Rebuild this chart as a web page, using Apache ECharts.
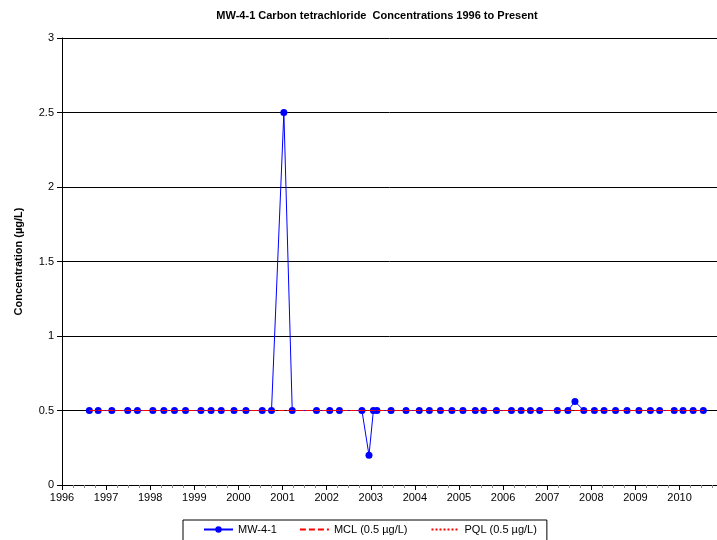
<!DOCTYPE html>
<html>
<head>
<meta charset="utf-8">
<script src="https://cdn.jsdelivr.net/npm/echarts@6/dist/echarts.min.js"></script>
<style>html,body{margin:0;padding:0;background:#fff}#c{width:717px;height:540px}</style>
</head>
<body>
<div id="c"></div>
<script>
// Sample dates (decimal years) and concentrations (µg/L)
const sampleYears = [1996.62,1996.82,1997.13,1997.49,1997.71,1998.06,1998.31,1998.55,1998.80,1999.15,1999.38,1999.61,1999.90,2000.17,2000.54,2000.75,2001.03,2001.22,2001.77,2002.07,2002.29,2002.80,2002.96,2003.06,2003.14,2003.46,2003.80,2004.10,2004.33,2004.58,2004.84,2005.09,2005.37,2005.56,2005.85,2006.19,2006.41,2006.62,2006.83,2007.23,2007.47,2007.63,2007.83,2008.07,2008.29,2008.55,2008.81,2009.08,2009.34,2009.55,2009.88,2010.08,2010.31,2010.54];
const mw41 = [0.5,0.5,0.5,0.5,0.5,0.5,0.5,0.5,0.5,0.5,0.5,0.5,0.5,0.5,0.5,0.5,2.5,0.5,0.5,0.5,0.5,0.5,0.2,0.5,0.5,0.5,0.5,0.5,0.5,0.5,0.5,0.5,0.5,0.5,0.5,0.5,0.5,0.5,0.5,0.5,0.5,0.56,0.5,0.5,0.5,0.5,0.5,0.5,0.5,0.5,0.5,0.5,0.5,0.5];
const mclValue = 0.5;
const pqlValue = 0.5;
const yearTicks = [1996,1997,1998,1999,2000,2001,2002,2003,2004,2005,2006,2007,2008,2009,2010];

const FONT = 'Liberation Sans, Arial, sans-serif';
const mwData = sampleYears.map((x, i) => [x, mw41[i]]);
const first = sampleYears[0], last = sampleYears[sampleYears.length - 1];

const chart = echarts.init(document.getElementById('c'), null, {renderer: 'canvas'});
chart.setOption({
  animation: false,
  backgroundColor: '#fff',
  textStyle: {fontFamily: FONT},
  title: {
    text: 'MW-4-1 Carbon tetrachloride  Concentrations 1996 to Present',
    left: 372, top: 5, textAlign: 'center',
    textStyle: {fontFamily: FONT, fontSize: 11, fontWeight: 'bold', color: '#000'}
  },
  grid: {left: 62, right: 0, top: 38, bottom: 55, containLabel: false},
  xAxis: {
    type: 'value', min: yearTicks[0], max: 2010.85, interval: 1,
    axisLine: {show: true, lineStyle: {color: '#000', width: 1}},
    axisTick: {show: true, inside: false, length: 5, lineStyle: {color: '#000'}},
    minorTick: {show: true, splitNumber: 4, length: 3, lineStyle: {color: '#888'}},
    splitLine: {show: false},
    axisLabel: {
      color: '#000', fontSize: 11, fontFamily: FONT, margin: 7, showMaxLabel: false,
      formatter: v => yearTicks.indexOf(Math.round(v)) >= 0 && Math.abs(v - Math.round(v)) < 1e-6 ? String(Math.round(v)) : ''
    }
  },
  yAxis: {
    type: 'value', min: 0, max: 3, interval: 0.5,
    name: 'Concentration (µg/L)', nameLocation: 'middle', nameRotate: 90, nameGap: 38,
    nameTextStyle: {fontFamily: FONT, fontSize: 11, fontWeight: 'bold', color: '#000'},
    axisLine: {show: true, lineStyle: {color: '#000', width: 1}},
    axisTick: {show: true, inside: false, length: 5, lineStyle: {color: '#000'}},
    splitLine: {show: true, lineStyle: {color: '#000', width: 1}},
    axisLabel: {color: '#000', fontSize: 11, fontFamily: FONT, margin: 8,
      formatter: v => String(v)}
  },
  legend: {
    left: 183, top: 520,
    padding: [4, 10, 7, 20],
    borderColor: '#000', borderWidth: 1, borderRadius: 0,
    itemWidth: 29, itemHeight: 8, itemGap: 22,
    textStyle: {fontFamily: FONT, fontSize: 11, color: '#000'},
    data: [
      {name: 'MW-4-1'},
      {name: 'MCL (0.5 µg/L)', itemStyle: {opacity: 0}},
      {name: 'PQL (0.5 µg/L)', itemStyle: {opacity: 0}}
    ]
  },
  series: [
    {
      name: 'MW-4-1', type: 'line', data: mwData, z: 2,
      symbol: 'circle', symbolSize: 7,
      lineStyle: {color: '#0000FF', width: 1},
      itemStyle: {color: '#0000FF'}
    },
    {
      name: 'MCL (0.5 µg/L)', type: 'line', data: [[first, mclValue], [last, mclValue]], z: 3,
      symbol: 'none',
      lineStyle: {color: '#FF0000', width: 1, type: [6, 3]},
      itemStyle: {color: '#FF0000'}
    },
    {
      name: 'PQL (0.5 µg/L)', type: 'line', data: [[first, pqlValue], [last, pqlValue]], z: 3,
      symbol: 'none',
      lineStyle: {color: '#FF0000', width: 1, type: [2, 2], dashOffset: 3},
      itemStyle: {color: '#FF0000'}
    }
  ]
});
</script>
</body>
</html>
